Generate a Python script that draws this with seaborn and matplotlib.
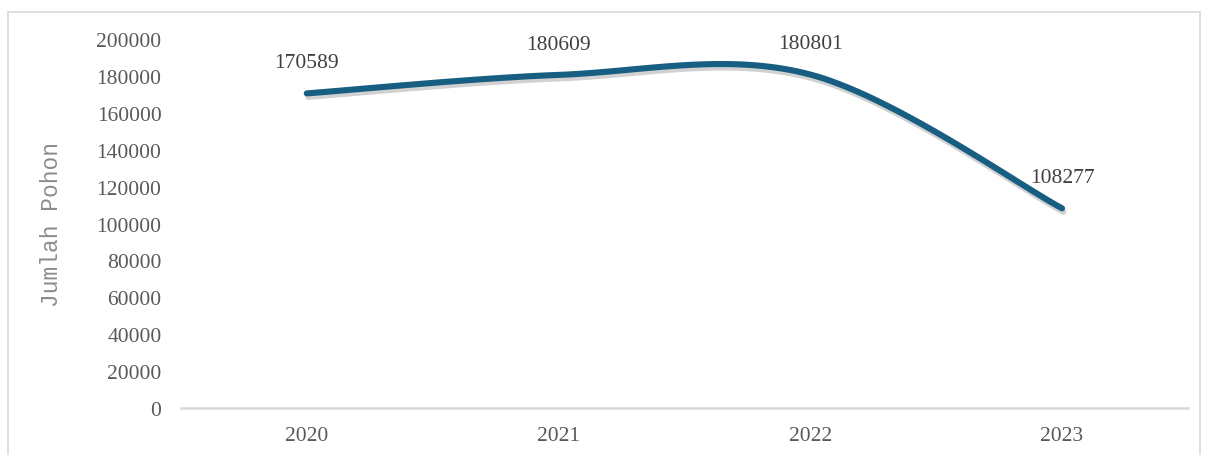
import matplotlib.pyplot as plt
import matplotlib.patheffects as pe
from matplotlib.patches import Rectangle
import numpy as np
import pandas as pd
import seaborn as sns

# data
years = ["2020", "2021", "2022", "2023"]
jumlah_pohon = [170589, 180609, 180801, 108277]
y_ticks = list(range(0, 200001, 20000))


def smooth_curve(xs, ys, steps=40):
    """Excel-like smoothed line: Catmull-Rom segments as cubic Bezier curves."""
    pts = np.column_stack([xs, ys]).astype(float)
    n = len(pts)
    out = []
    t = np.linspace(0, 1, steps)[:, None]
    for i in range(n - 1):
        p0 = pts[max(i - 1, 0)]
        p1 = pts[i]
        p2 = pts[i + 1]
        p3 = pts[min(i + 2, n - 1)]
        c1 = p1 + (p2 - p0) / 6
        c2 = p2 - (p3 - p1) / 6
        seg = ((1 - t) ** 3) * p1 + 3 * ((1 - t) ** 2) * t * c1 + 3 * (1 - t) * t ** 2 * c2 + t ** 3 * p2
        out.append(seg if i == 0 else seg[1:])
    return np.vstack(out)


df = pd.DataFrame({"pos": np.arange(len(years)), "tahun": years, "jumlah": jumlah_pohon})
curve = smooth_curve(df["pos"], df["jumlah"])
curve_df = pd.DataFrame({"x": curve[:, 0], "y": curve[:, 1]})

sns.set_theme(style="white")
serif = ["Liberation Serif", "DejaVu Serif"]
line_color = "#175e82"
tick_color = "#595959"

fig = plt.figure(figsize=(12.06, 4.56), dpi=100)
ax = fig.add_axes([0.150, 0.103, 0.835, 0.809])

sns.lineplot(data=curve_df, x="x", y="y", ax=ax, color=line_color, linewidth=4.4,
             sort=False, estimator=None, solid_capstyle="round",
             path_effects=[pe.SimpleLineShadow(offset=(1, -2.5), alpha=0.18, shadow_color="black"),
                           pe.Normal()])

for pos, val in zip(df["pos"], df["jumlah"]):
    ax.annotate(str(val), xy=(pos, val), xytext=(0, 22), textcoords="offset points",
                ha="center", va="center", fontsize=15.5, color="#404040", family=serif)

ax.set_xlim(-0.5, len(years) - 0.5)
ax.set_ylim(0, 200000)
ax.set_xticks(df["pos"])
ax.set_xticklabels(years)
ax.set_yticks(y_ticks)
ax.set_yticklabels([str(v) for v in y_ticks])
for lab in ax.get_xticklabels() + ax.get_yticklabels():
    lab.set_family(serif)
    lab.set_fontsize(15.5)
    lab.set_color(tick_color)
ax.tick_params(axis="both", length=0)
ax.tick_params(axis="y", pad=14)
ax.tick_params(axis="x", pad=13)

ax.set_xlabel("")
ax.set_ylabel("Jumlah Pohon", fontsize=16.5, color="#8c8c8c",
              family=["Liberation Mono", "DejaVu Sans Mono"])
ax.yaxis.set_label_coords(-0.117, 0.5)

for side in ["top", "right", "left"]:
    ax.spines[side].set_visible(False)
ax.spines["bottom"].set_color("#d9d9d9")
ax.spines["bottom"].set_linewidth(1.8)

# light frame around the chart area
fig.add_artist(Rectangle((8 / 1206, -0.05), 1192 / 1206, 1.05 - 13 / 456,
                         transform=fig.transFigure, fill=False,
                         edgecolor="#d9d9d9", linewidth=1.2))

fig.savefig("out.png", dpi=100)
